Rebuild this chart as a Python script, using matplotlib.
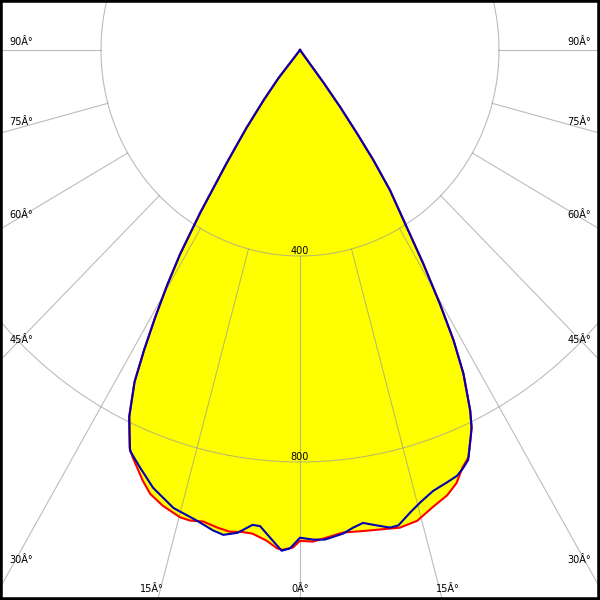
import matplotlib
matplotlib.use("Agg")
import matplotlib.pyplot as plt
import numpy as np

# Luminous intensity (cd) vs angle (deg, 0 = straight down, negative = left)
# part shared by both planes
upper_left_angles = [-90, -39.4, -38.4, -36.9, -35.4, -33.9, -32.4, -31.3, -30.3,
                     -29.3, -28.3, -27.3, -25.75, -24.7]
upper_left_cd = [0, 0, 70, 121, 187, 263, 374, 464, 530, 594, 660, 725, 790, 820]
upper_right_angles = [25.2, 26.05, 27.6, 28.7, 29.7, 30.85, 32.15, 33.6, 34.6,
                      35.3, 36.1, 36.7, 37.4, 90]
upper_right_cd = [810, 779, 709, 643, 568, 483, 394, 327, 260, 198, 137, 80, 0, 0]

# C0-C180 plane (red)
red_angles = [-23.9, -23.0, -20.7, -19.25, -17.3, -14.85, -13.6, -12.0, -10.2, -8.6,
              -7.0, -5.8, -4.05, -2.7, -2.07, -0.83, 0, 1.55, 3.3, 5.27, 8.16, 10.63,
              12.2, 14.45, 16.7, 18.87, 20.5, 21.95, 23.2, 24.5]
red_cd = [845, 860, 894, 913, 927, 939, 940, 936, 942, 946, 943, 944, 955, 969,
          971, 966, 953, 955, 948, 941, 943, 946, 949, 944, 927, 914, 898, 874,
          860, 827]

# C90-C270 plane (blue)
blue_angles = [-23.7, -21.65, -19.15, -15.95, -12.8, -10.63, -9.3, -7.65, -5.9, -4.96,
               -3.62, -2.17, -1.19, 0, 1.55, 3.0, 5.27, 6.5, 7.85, 9.5, 11.05, 12.1,
               13.85, 15.4, 17.35, 19.4, 20.9, 21.95, 23.0, 24.8]
blue_cd = [850, 872, 900, 925, 937, 949, 954, 946, 927, 928, 949, 973, 968, 947,
           951, 952, 943, 934, 927, 936, 945, 944, 925, 911, 897, 890, 885, 876,
           865, 820]

ring_values = [400, 800]
spoke_angles = [-90, -75, -60, -45, -30, -15, 0, 15, 30, 45, 60, 75, 90]
side_labels = [90, 75, 60, 45, 30]
bottom_labels = [-15, 0, 15]

# layout (pixels in a 600x600 image, centre of the diagram at (300, 50))
kx, ky = 0.4975, 0.515          # px per cd, horizontal / vertical
side_label_y = {90: 42, 75: 122, 60: 215, 45: 340, 30: 560}
grid_col = "#999999"


def to_xy(angles, cd):
    a = np.radians(np.asarray(angles, dtype=float))
    r = np.asarray(cd, dtype=float)
    return r * np.sin(a), -r * np.cos(a)


fig = plt.figure(figsize=(6, 6), dpi=100)
ax = fig.add_axes([0, 0, 1, 1])
ax.set_xlim(-300 / kx, 300 / kx)
ax.set_ylim(-550 / ky, 50 / ky)
ax.set_aspect("auto")
ax.set_xticks([])
ax.set_yticks([])
for s in ax.spines.values():
    s.set_color("black")
    s.set_linewidth(4)

curves = []
for ang, cd, col in [(red_angles, red_cd, "#ff0000"), (blue_angles, blue_cd, "#0000b4")]:
    x, y = to_xy(upper_left_angles + ang + upper_right_angles,
                 upper_left_cd + cd + upper_right_cd)
    ax.fill(x, y, color="#ffff00", lw=0, zorder=1)
    curves.append((x, y, col))

# grid
t = np.linspace(0, 2 * np.pi, 400)
for rv in ring_values:
    ax.plot(rv * np.cos(t), rv * np.sin(t), color=grid_col, lw=0.8, alpha=0.65, zorder=2)
    ax.text(0, -rv, str(rv), ha="center", va="bottom", fontsize=7, zorder=3)
for a in spoke_angles:
    x, y = to_xy([a, a], [ring_values[0], 3000])
    ax.plot(x, y, color=grid_col, lw=0.8, alpha=0.65, zorder=2)

# angle labels
for a in side_labels:
    for sign in (-1, 1):
        ax.text(sign * 279 / kx, (50 - side_label_y[a]) / ky, f"{a}Â°",
                ha="center", va="center", fontsize=7, zorder=3)
for a in bottom_labels:
    ax.text(np.sign(a) * 148 / kx, (50 - 589) / ky, f"{abs(a)}Â°",
            ha="center", va="center", fontsize=7, zorder=3)

for x, y, col in curves:
    ax.plot(x, y, color=col, lw=1.5, zorder=4)

fig.savefig("out.png", dpi=100)
